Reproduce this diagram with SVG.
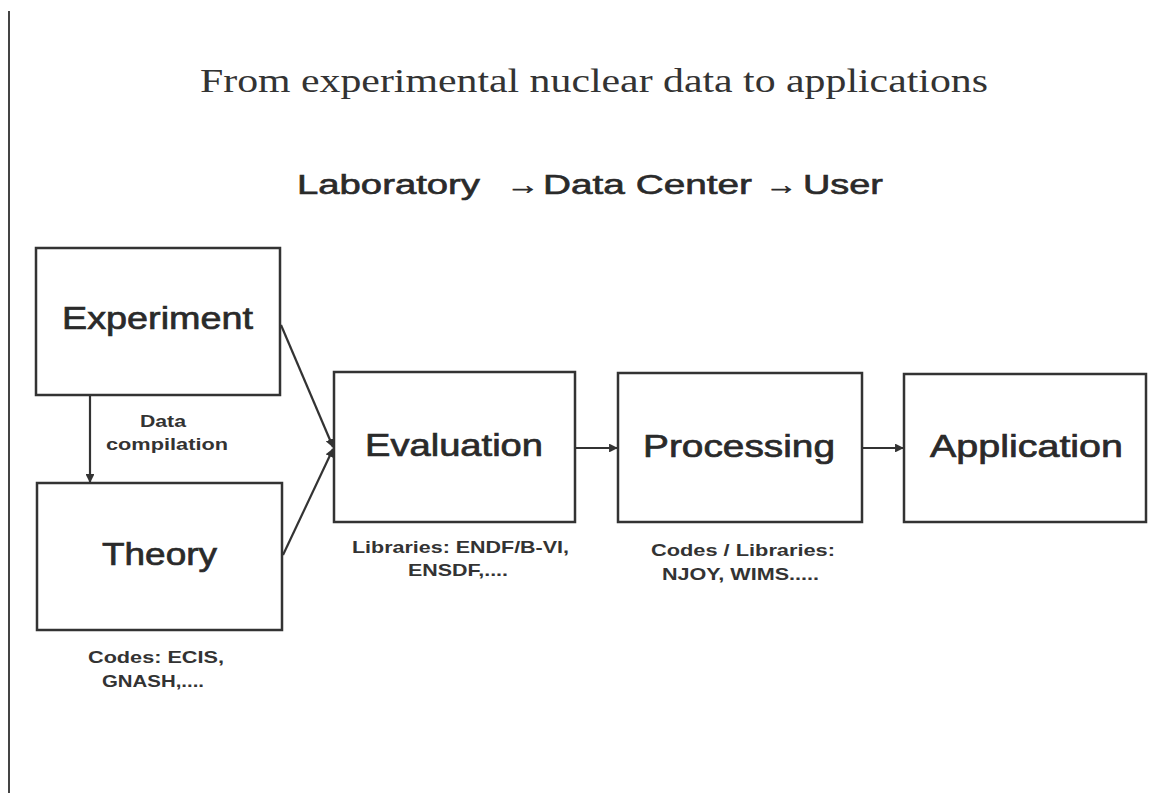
<svg xmlns="http://www.w3.org/2000/svg" width="1154" height="793" viewBox="0 0 1154 793">
<style>
.box{fill:#fff;stroke:#333;stroke-width:2.5}
.lbl{font-family:"Liberation Sans",Arial,sans-serif;font-size:32px;fill:#2a2a2a;stroke:#2a2a2a;stroke-width:0.7}
.sub{font-family:"Liberation Sans",Arial,sans-serif;font-size:27px;fill:#2a2a2a;stroke:#2a2a2a;stroke-width:0.6}
.sm{font-family:"Liberation Sans",Arial,sans-serif;font-size:17px;font-weight:bold;fill:#333}
.ln{stroke:#333;stroke-width:2.2;fill:none}
</style>
<defs>
<marker id="ah" viewBox="0 0 10 10" refX="9" refY="5" markerWidth="4" markerHeight="4" orient="auto">
<path d="M0,0 L10,5 L0,10 z" fill="#333"/>
</marker>
</defs>
<rect width="1154" height="793" fill="#fff"/>
<line x1="9" y1="11" x2="9" y2="793" stroke="#444" stroke-width="2"/>
<text x="200" y="92" font-family="Liberation Serif,Times New Roman,serif" font-size="34" fill="#333" textLength="788" lengthAdjust="spacingAndGlyphs">From experimental nuclear data to applications</text>
<g id="subtitle">
<text class="sub" x="297" y="194" textLength="183" lengthAdjust="spacingAndGlyphs">Laboratory</text>
<text class="sub" x="506" y="194" textLength="33" lengthAdjust="spacingAndGlyphs">→</text>
<text class="sub" x="543" y="194" textLength="209" lengthAdjust="spacingAndGlyphs">Data Center</text>
<text class="sub" x="765" y="194" textLength="32" lengthAdjust="spacingAndGlyphs">→</text>
<text class="sub" x="803" y="194" textLength="80" lengthAdjust="spacingAndGlyphs">User</text>
</g>
<g id="connectors">
<line class="ln" x1="90" y1="395" x2="90" y2="482" marker-end="url(#ah)"/>
<line class="ln" x1="281" y1="325" x2="333" y2="447" marker-end="url(#ah)"/>
<line class="ln" x1="283" y1="555" x2="333" y2="449" marker-end="url(#ah)"/>
<line class="ln" x1="576" y1="448" x2="617" y2="448" marker-end="url(#ah)"/>
<line class="ln" x1="863" y1="448" x2="903" y2="448" marker-end="url(#ah)"/>
</g>
<g id="experiment">
<rect class="box" x="36" y="248" width="244" height="147"/>
<text class="lbl" x="62" y="329" textLength="191" lengthAdjust="spacingAndGlyphs">Experiment</text>
</g>
<g id="data-compilation">
<text class="sm" x="140" y="427" textLength="46" lengthAdjust="spacingAndGlyphs">Data</text>
<text class="sm" x="106" y="450" textLength="122" lengthAdjust="spacingAndGlyphs">compilation</text>
</g>
<g id="theory">
<rect class="box" x="37" y="483" width="245" height="147"/>
<text class="lbl" x="102" y="565" textLength="115" lengthAdjust="spacingAndGlyphs">Theory</text>
<text class="sm" x="88" y="663" textLength="136" lengthAdjust="spacingAndGlyphs">Codes: ECIS,</text>
<text class="sm" x="102" y="687" textLength="102" lengthAdjust="spacingAndGlyphs">GNASH,....</text>
</g>
<g id="evaluation">
<rect class="box" x="334" y="372" width="241" height="150"/>
<text class="lbl" x="365" y="456" textLength="178" lengthAdjust="spacingAndGlyphs">Evaluation</text>
<text class="sm" x="352" y="553" textLength="217" lengthAdjust="spacingAndGlyphs">Libraries: ENDF/B-VI,</text>
<text class="sm" x="408" y="576" textLength="100" lengthAdjust="spacingAndGlyphs">ENSDF,....</text>
</g>
<g id="processing">
<rect class="box" x="618" y="373" width="244" height="149"/>
<text class="lbl" x="643" y="457" textLength="192" lengthAdjust="spacingAndGlyphs">Processing</text>
<text class="sm" x="651" y="556" textLength="184" lengthAdjust="spacingAndGlyphs">Codes / Libraries:</text>
<text class="sm" x="662" y="580" textLength="157" lengthAdjust="spacingAndGlyphs">NJOY, WIMS.....</text>
</g>
<g id="application">
<rect class="box" x="904" y="374" width="242" height="148"/>
<text class="lbl" x="930" y="457" textLength="193" lengthAdjust="spacingAndGlyphs">Application</text>
</g>
</svg>
